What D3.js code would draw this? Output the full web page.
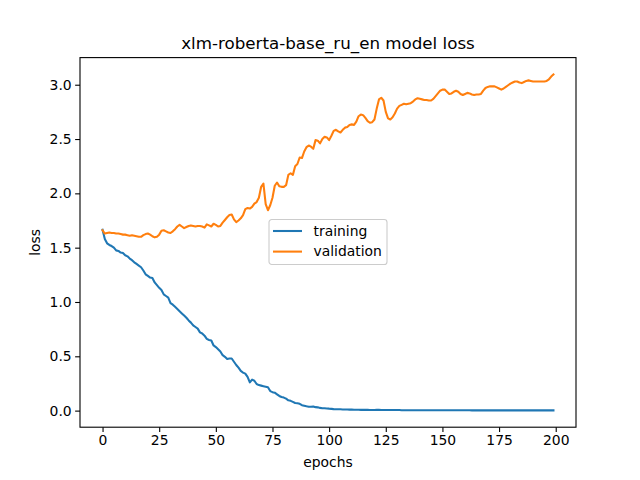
<!DOCTYPE html>
<html>
<head>
<meta charset="utf-8">
<script src="https://cdn.jsdelivr.net/npm/d3@7"></script>
<style>
  body { margin: 0; background: #fff; }
  svg { font-family: "DejaVu Sans", sans-serif; }
</style>
</head>
<body>
<div id="chart"></div>
<script>
// values, one per epoch (0..199)
const training = [
  1.665, 1.58, 1.54, 1.525, 1.515, 1.50, 1.475, 1.47, 1.455, 1.45,
  1.43, 1.42, 1.40, 1.385, 1.365, 1.35, 1.335, 1.32, 1.29, 1.255,
  1.24, 1.225, 1.22, 1.18, 1.155, 1.13, 1.11, 1.07, 1.055, 1.04,
  0.99, 0.975, 0.955, 0.935, 0.915, 0.895, 0.875, 0.855, 0.83, 0.81,
  0.785, 0.77, 0.755, 0.72, 0.71, 0.69, 0.66, 0.65, 0.645, 0.60,
  0.585, 0.565, 0.545, 0.51, 0.495, 0.475, 0.48, 0.48, 0.45, 0.42,
  0.395, 0.365, 0.35, 0.34, 0.31, 0.26, 0.285, 0.275, 0.245, 0.235,
  0.23, 0.225, 0.22, 0.215, 0.18, 0.17, 0.165, 0.15, 0.135, 0.125,
  0.12, 0.11, 0.095, 0.09, 0.08, 0.07, 0.068, 0.063, 0.05, 0.045,
  0.04, 0.036, 0.035, 0.038, 0.032, 0.03, 0.025, 0.022, 0.021, 0.019,
  0.018, 0.016, 0.014, 0.013, 0.012, 0.012, 0.011, 0.010, 0.010, 0.009,
  0.009, 0.008, 0.008, 0.008, 0.007, 0.007, 0.007, 0.007, 0.006, 0.006,
  0.006, 0.007, 0.007, 0.006, 0.006, 0.006, 0.005, 0.005, 0.005, 0.005,
  0.005, 0.005, 0.004, 0.004, 0.004, 0.004, 0.004, 0.004, 0.004, 0.004,
  0.003, 0.003, 0.003, 0.003, 0.003, 0.003, 0.003, 0.003, 0.003, 0.003,
  0.003, 0.003, 0.003, 0.003, 0.003, 0.003, 0.003, 0.003, 0.003, 0.003,
  0.003, 0.003, 0.003, 0.002, 0.002, 0.002, 0.002, 0.002, 0.002, 0.002,
  0.002, 0.002, 0.002, 0.002, 0.002, 0.002, 0.002, 0.002, 0.002, 0.002,
  0.002, 0.002, 0.002, 0.002, 0.002, 0.002, 0.002, 0.002, 0.002, 0.002,
  0.002, 0.002, 0.002, 0.002, 0.002, 0.002, 0.002, 0.002, 0.002, 0.002
]
const validation = [
  1.66, 1.63, 1.635, 1.64, 1.635, 1.635, 1.63, 1.63, 1.625, 1.62,
  1.62, 1.615, 1.61, 1.615, 1.61, 1.605, 1.60, 1.60, 1.615, 1.625,
  1.63, 1.62, 1.605, 1.595, 1.60, 1.62, 1.655, 1.66, 1.65, 1.64,
  1.635, 1.65, 1.67, 1.695, 1.71, 1.695, 1.68, 1.69, 1.70, 1.705,
  1.70, 1.695, 1.70, 1.70, 1.695, 1.685, 1.715, 1.705, 1.695, 1.72,
  1.71, 1.695, 1.70, 1.73, 1.755, 1.78, 1.80, 1.805, 1.76, 1.735,
  1.75, 1.77, 1.80, 1.855, 1.865, 1.86, 1.875, 1.905, 1.92, 1.96,
  2.06, 2.09, 1.90, 1.845, 1.89, 1.96, 2.07, 2.10, 2.065, 2.06,
  2.06, 2.075, 2.17, 2.185, 2.17, 2.25, 2.27, 2.33, 2.325, 2.385,
  2.425, 2.44, 2.43, 2.41, 2.49, 2.485, 2.46, 2.50, 2.52, 2.515,
  2.49, 2.53, 2.575, 2.585, 2.57, 2.56, 2.585, 2.605, 2.61, 2.63,
  2.635, 2.63, 2.66, 2.71, 2.725, 2.72, 2.695, 2.665, 2.65, 2.655,
  2.68, 2.78, 2.865, 2.88, 2.855, 2.75, 2.69, 2.68, 2.70, 2.735,
  2.78, 2.805, 2.815, 2.825, 2.82, 2.825, 2.83, 2.845, 2.865, 2.875,
  2.87, 2.865, 2.86, 2.86, 2.855, 2.855, 2.87, 2.895, 2.92, 2.945,
  2.955, 2.955, 2.935, 2.915, 2.92, 2.935, 2.945, 2.935, 2.915, 2.905,
  2.915, 2.925, 2.92, 2.91, 2.905, 2.91, 2.91, 2.915, 2.945, 2.97,
  2.98, 2.985, 2.985, 2.985, 2.975, 2.965, 2.955, 2.965, 2.98, 2.995,
  3.01, 3.02, 3.03, 3.03, 3.02, 3.015, 3.025, 3.035, 3.04, 3.035,
  3.03, 3.03, 3.03, 3.03, 3.03, 3.03, 3.035, 3.05, 3.075, 3.095
]
const xTicks = [0, 25, 50, 75, 100, 125, 150, 175, 200]
const yTicks = [0.0, 0.5, 1.0, 1.5, 2.0, 2.5, 3.0]
const seriesNames = ['training', 'validation']
const colors = ['#1f77b4', '#ff7f0e']

const width = 640, height = 480
const margin = { left: 80, right: 64, top: 57.6, bottom: 52.8 }
const iw = width - margin.left - margin.right
const ih = height - margin.top - margin.bottom

const svg = d3.select('#chart').append('svg')
    .attr('width', width)
    .attr('height', height)

const g = svg.append('g')
    .attr('transform', `translate(${margin.left},${margin.top})`)

// matplotlib style 5% padding around the data
const n = training.length
const xPad = (n - 1) * 0.05
const allVals = training.concat(validation)
const yMin = d3.min(allVals), yMax = d3.max(allVals)
const yPad = (yMax - yMin) * 0.05

const x = d3.scaleLinear().domain([-xPad, n - 1 + xPad]).range([0, iw])
const y = d3.scaleLinear().domain([yMin - yPad, yMax + yPad]).range([ih, 0])

const line = d3.line()
    .x((d, i) => x(i))
    .y(d => y(d))

const series = [training, validation]
g.selectAll('path.series')
    .data(series)
    .enter().append('path')
    .attr('class', 'series')
    .attr('fill', 'none')
    .attr('stroke', (d, i) => colors[i])
    .attr('stroke-width', 2.08)
    .attr('stroke-linejoin', 'round')
    .attr('stroke-linecap', 'square')
    .attr('d', line)

// axes
const xAxis = g.append('g')
    .attr('transform', `translate(0,${ih})`)
    .call(d3.axisBottom(x).tickValues(xTicks).tickSize(4.86).tickPadding(3.5).tickFormat(d3.format('d')))
const yAxis = g.append('g')
    .call(d3.axisLeft(y).tickValues(yTicks).tickSize(4.86).tickPadding(3.5).tickFormat(d3.format('.1f')))

;[xAxis, yAxis].forEach(a => {
    a.select('.domain').remove()
    a.selectAll('line').attr('stroke', '#000').attr('stroke-width', 1.1)
    a.selectAll('text').attr('font-size', 13.9).attr('fill', '#000')
        .attr('font-family', '"DejaVu Sans", sans-serif')
})

// frame
g.append('rect')
    .attr('width', iw)
    .attr('height', ih)
    .attr('fill', 'none')
    .attr('stroke', '#000')
    .attr('stroke-width', 1.1)

// title and labels
svg.append('text')
    .attr('x', margin.left + iw / 2)
    .attr('y', margin.top - 8.5)
    .attr('text-anchor', 'middle')
    .attr('font-size', 16.7)
    .text('xlm-roberta-base_ru_en model loss')

svg.append('text')
    .attr('x', margin.left + iw / 2)
    .attr('y', 467)
    .attr('text-anchor', 'middle')
    .attr('font-size', 13.9)
    .text('epochs')

svg.append('text')
    .attr('transform', `translate(40,${margin.top + ih / 2}) rotate(-90)`)
    .attr('text-anchor', 'middle')
    .attr('font-size', 13.9)
    .text('loss')

// legend
const legend = svg.append('g').attr('transform', 'translate(269,219.5)')
legend.append('rect')
    .attr('width', 118)
    .attr('height', 45)
    .attr('rx', 2.8)
    .attr('fill', '#fff')
    .attr('fill-opacity', 0.8)
    .attr('stroke', '#cccccc')
    .attr('stroke-width', 1.1)

const items = legend.selectAll('g.item')
    .data(seriesNames)
    .enter().append('g')
    .attr('class', 'item')
    .attr('transform', (d, i) => `translate(0,${11.5 + i * 20.6})`)
items.append('line')
    .attr('x1', 4).attr('x2', 33)
    .attr('stroke', (d, i) => colors[i])
    .attr('stroke-width', 2.08)
items.append('text')
    .attr('x', 44.5)
    .attr('dy', '0.35em')
    .attr('font-size', 13.9)
    .text(d => d)
</script>
</body>
</html>
